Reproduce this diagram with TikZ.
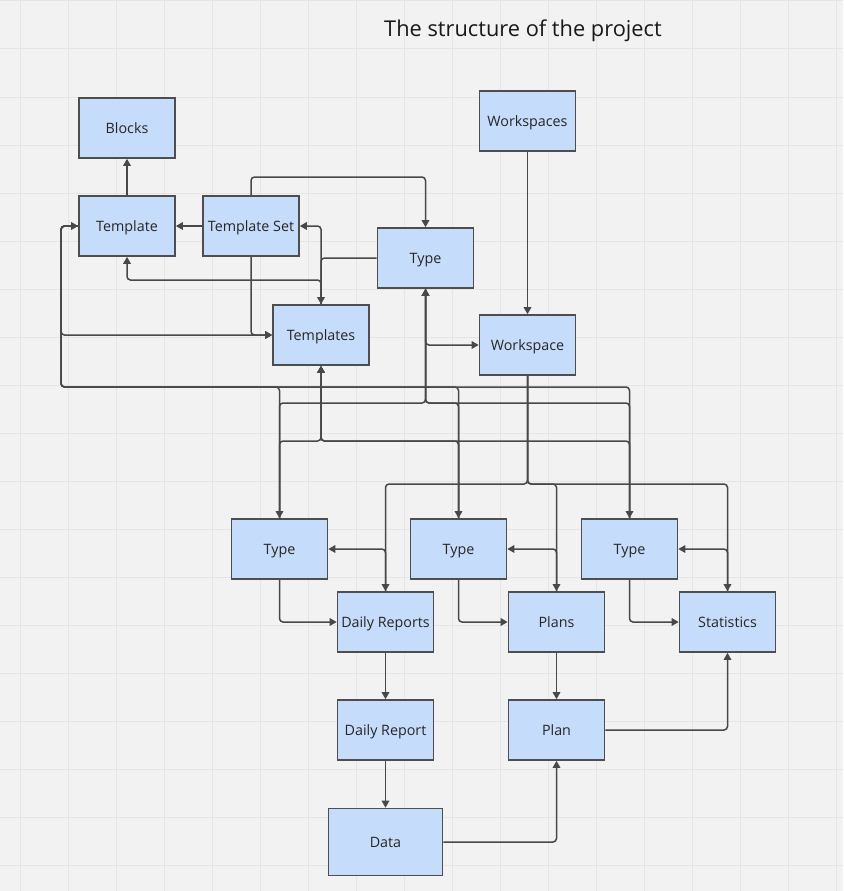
\documentclass[tikz,border=0pt]{standalone}
\usepackage{fontspec}
\setmainfont{Open Sans}
\usetikzlibrary{arrows.meta}
\definecolor{bg}{HTML}{F2F2F2}
\definecolor{gridc}{HTML}{E5E5E5}
\definecolor{boxfill}{HTML}{C6DCFB}
\definecolor{boxline}{HTML}{4E4E4E}
\definecolor{linec}{HTML}{484848}
\begin{document}
\begin{tikzpicture}[x=1pt,y=-1pt,
  box/.style={draw=boxline, fill=boxfill, line width=1.6pt, minimum width=96pt, minimum height=60pt, inner sep=0pt, text height=10pt, text depth=0pt, font=\fontsize{14.3}{16}\selectfont, text=black!85},
  conn/.style={draw=linec, line width=1.5pt, rounded corners=3.5pt},
  arr/.style={conn, -{Triangle[length=7pt,width=7.5pt]}},
  arrb/.style={conn, {Triangle[length=7pt,width=7.5pt]}-{Triangle[length=7pt,width=7.5pt]}}]
\fill[bg] (0,0) rectangle (843,891);
\useasboundingbox (0,0) rectangle (843,891);
\foreach \x in {20,68,...,836} \draw[gridc, line width=1pt] (\x,0) -- (\x,891);
\foreach \y in {1,49,...,889} \draw[gridc, line width=1pt] (0,\y) -- (843,\y);

\node[font=\fontsize{21.8}{24}\selectfont, text=black!90, inner sep=0pt, text height=15pt, text depth=0pt] (title) at (523,29) {The structure of the project};

% nodes
\node[box] (Blocks) at (127,128) {Blocks};
\node[box] (Template) at (127,226) {Template};
\node[box] (TSet) at (251,226) {Template Set};
\node[box] (TypeT) at (425.5,258) {Type};
\node[box] (Templates) at (321,335) {Templates};
\node[box] (Workspaces) at (527.5,121) {Workspaces};
\node[box] (Workspace) at (527.5,345) {Workspace};
\node[box] (TypeA) at (279.5,549) {Type};
\node[box] (TypeB) at (458.5,549) {Type};
\node[box] (TypeC) at (629.5,549) {Type};
\node[box] (DReports) at (385.5,622) {Daily Reports};
\node[box] (Plans) at (556.5,622) {Plans};
\node[box] (Stats) at (727.5,622) {Statistics};
\node[box] (DReport) at (385.5,730) {Daily Report};
\node[box] (Plan) at (556.5,730) {Plan};
\node[box, minimum width=114pt, minimum height=67pt] (Data) at (385.5,842) {Data};

% named routing points
\coordinate (Lbend) at (61,387);
\coordinate (Lmid) at (61,335);
\coordinate (Tj) at (425.5,403);
\coordinate (Sj) at (321,441);
\coordinate (Wj) at (527.5,484);
\coordinate (TSj) at (321,280);

% top-left cluster
\draw[arr] (Template.north) -- (Blocks.south);
\draw[arr] (TSet.west) -- (Template.east);
\draw[arr] (TSet.north) -- (TSet.north |- 0,177) -| (TypeT.north);
\draw[arr] (Templates.north) |- (TSet.east);
\draw[arr] (TypeT.west) -| (Templates.north);
\draw[arr] (Templates.north) -- (TSj) -| (Template.south);
\draw[arr] (TSet.south) |- (Templates.west);
\draw[arr] (Template.west) -| (Lmid) -- (Templates.west);

% big left loop to the three types
\draw[arrb] (Template.west) -| (Lbend) -| (TypeA.north);
\draw[arr] (Template.west) -| (Lbend) -| (TypeB.north);
\draw[arr] (Template.west) -| (Lbend) -| (TypeC.north);

% types to top Type
\draw[arr] (TypeA.north) |- (Tj) -- (TypeT.south);
\draw[arr] (TypeB.north) |- (Tj) -- (TypeT.south);
\draw[arr] (TypeC.north) |- (Tj) -- (TypeT.south);
\draw[arr] (TypeT.south) |- (Workspace.west);

% types to Templates
\draw[arr] (TypeA.north) |- (Sj) -- (Templates.south);
\draw[arr] (TypeB.north) |- (Sj) -- (Templates.south);
\draw[arr] (TypeC.north) |- (Sj) -- (Templates.south);

% workspaces
\draw[arr] (Workspaces.south) -- (Workspace.north);
\draw[arr] (Workspace.south) -- (Wj) -| (DReports.north);
\draw[arr] (Workspace.south) -- (Wj) -| (Plans.north);
\draw[arr] (Workspace.south) -- (Wj) -| (Stats.north);

% lower part
\draw[arr] (DReports.north) |- (TypeA.east);
\draw[arr] (Plans.north) |- (TypeB.east);
\draw[arr] (Stats.north) |- (TypeC.east);
\draw[arr] (TypeA.south) |- (DReports.west);
\draw[arr] (TypeB.south) |- (Plans.west);
\draw[arr] (TypeC.south) |- (Stats.west);
\draw[arr] (DReports.south) -- (DReport.north);
\draw[arr] (DReport.south) -- (Data.north);
\draw[arr] (Plans.south) -- (Plan.north);
\draw[arr] (Data.east) -| (Plan.south);
\draw[arr] (Plan.east) -| (Stats.south);
\end{tikzpicture}
\end{document}
